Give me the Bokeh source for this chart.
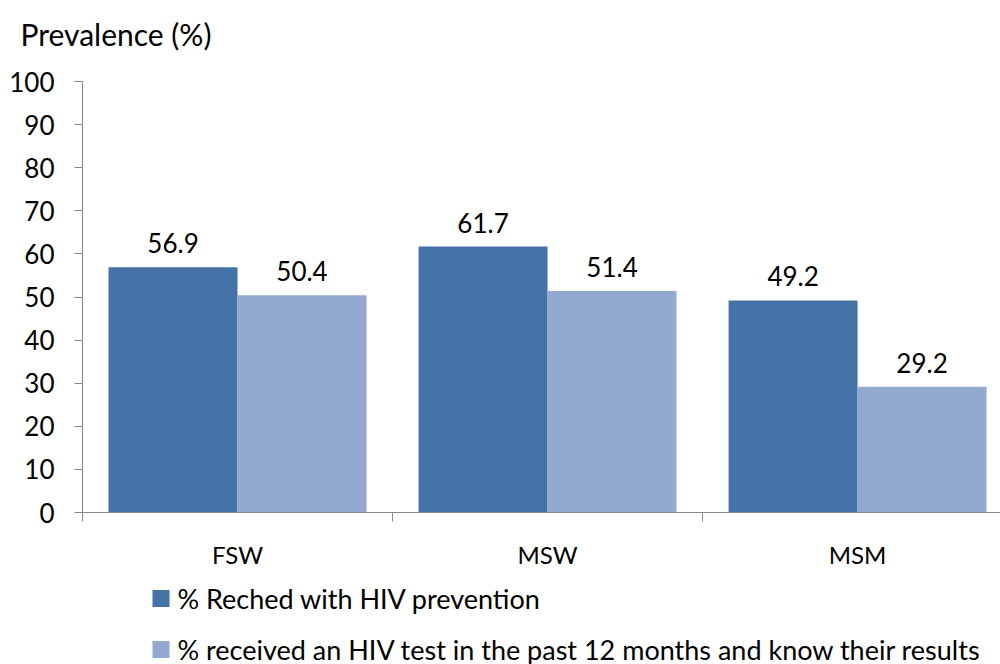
from bokeh.plotting import figure
from bokeh.models import Range1d, FixedTicker, ColumnDataSource
from bokeh.core.properties import value
from bokeh.embed import file_html
from bokeh.resources import INLINE

categories = ["FSW", "MSW", "MSM"]
reached = [56.9, 61.7, 49.2]
tested = [50.4, 51.4, 29.2]
series_names = ["% Reched with HIV prevention",
                "% received an HIV test in the past 12 months and know their results"]
y_ticks = [0, 10, 20, 30, 40, 50, 60, 70, 80, 90, 100]
title_text = "Prevalence (%)"

FONT = "Lato"
DARK = "#4573A7"
LIGHT = "#94A9D0"
AXIS = "#888888"
W = 1000
LEFT = 82
H_TITLE, H_MAIN, H_LEG = 60, 515, 89


def blank_fig(h):
    # frame fills the whole canvas; data x equals page x
    f = figure(width=W, height=h, output_backend="svg", toolbar_location=None,
               x_range=Range1d(0, W), y_range=Range1d(0, h),
               x_axis_type=None, y_axis_type=None,
               min_border_left=0, min_border_right=0, min_border_top=0, min_border_bottom=0)
    f.outline_line_color = None
    f.xgrid.visible = False
    f.ygrid.visible = False
    return f


# title panel
t = blank_fig(H_TITLE)
t.text(x=[20], y=[H_TITLE - 33], text=[title_text], text_baseline="middle",
       text_font=value(FONT), text_font_size="30px", text_color="black")

# main chart
p = figure(width=W, height=H_MAIN, output_backend="svg", toolbar_location=None,
           x_range=Range1d(0, 2.961), y_range=Range1d(0, 100),
           min_border_left=LEFT, min_border_right=0, min_border_top=21, min_border_bottom=63)
p.outline_line_color = None
p.xgrid.visible = False
p.ygrid.visible = False

bw = 0.416
xc = [i + 0.5 for i in range(len(categories))]
x1 = [c - bw / 2 for c in xc]
x2 = [c + bw / 2 for c in xc]
src1 = ColumnDataSource(dict(x=x1, top=reached, lab=[f"{v:.1f}" for v in reached]))
src2 = ColumnDataSource(dict(x=x2, top=tested, lab=[f"{v:.1f}" for v in tested]))
p.vbar(x="x", top="top", bottom=0, width=bw, source=src1, fill_color=DARK, line_color=None)
p.vbar(x="x", top="top", bottom=0, width=bw, source=src2, fill_color=LIGHT, line_color=None)
for s in (src1, src2):
    p.text(x="x", y="top", text="lab", source=s, text_align="center", text_baseline="bottom",
           y_offset=-14, text_font=value(FONT), text_font_size="26px", text_color="black")

p.yaxis.ticker = FixedTicker(ticks=y_ticks)
p.yaxis.axis_line_color = AXIS
p.yaxis.major_tick_line_color = AXIS
p.yaxis.major_tick_out = 8
p.yaxis.major_tick_in = 0
p.yaxis.minor_tick_line_color = None
p.yaxis.major_label_standoff = 20
p.yaxis.major_label_text_font = FONT
p.yaxis.major_label_text_font_size = "26px"
p.yaxis.major_label_text_color = "black"

p.xaxis.ticker = FixedTicker(ticks=xc, minor_ticks=[0, 1, 2, 3])
p.xaxis.major_label_overrides = {c: n for c, n in zip(xc, categories)}
p.xaxis.axis_line_color = AXIS
p.xaxis.major_tick_line_color = None
p.xaxis.minor_tick_line_color = AXIS
p.xaxis.minor_tick_out = 9
p.xaxis.minor_tick_in = 0
p.xaxis.major_label_standoff = 18
p.xaxis.major_label_text_font = FONT
p.xaxis.major_label_text_font_size = "24px"
p.xaxis.major_label_text_color = "black"

# legend panel
lg = blank_fig(H_LEG)
leg_y = [H_LEG - 23, H_LEG - 74]
lg.rect(x=[160.5] * 2, y=leg_y, width=17, height=17, fill_color=[DARK, LIGHT], line_color=None)
lg.text(x=[177] * 2, y=leg_y, text=series_names, text_baseline="middle",
        text_font=value(FONT), text_font_size="27px", text_color="black")

open("out.html", "w").write(file_html([t, p, lg], INLINE))
